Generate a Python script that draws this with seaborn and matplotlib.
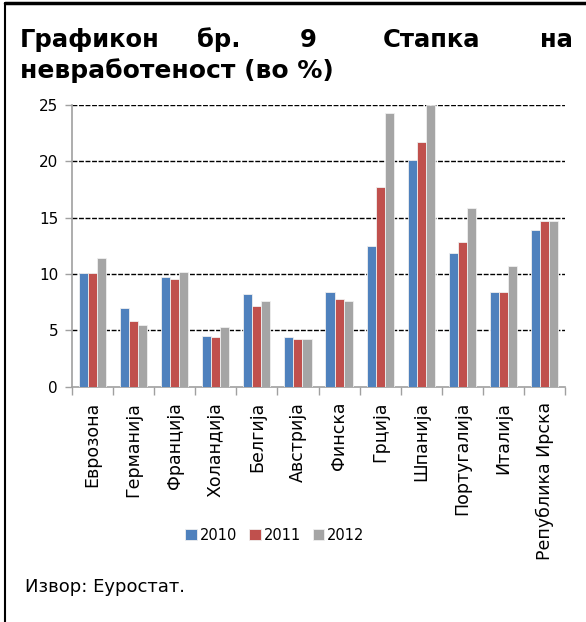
import matplotlib
matplotlib.use("Agg")
import matplotlib.pyplot as plt
import seaborn as sns
import pandas as pd

countries = ["Еврозона", "Германија", "Франција", "Холандија", "Белгија", "Австрија",
             "Финска", "Грција", "Шпанија", "Португалија", "Италија", "Република Ирска"]
years = ["2010", "2011", "2012"]
v2010 = [10.1, 7.0, 9.7, 4.5, 8.2, 4.4, 8.4, 12.5, 20.1, 11.9, 8.4, 13.9]
v2011 = [10.1, 5.8, 9.6, 4.4, 7.2, 4.2, 7.8, 17.7, 21.7, 12.8, 8.4, 14.7]
v2012 = [11.4, 5.5, 10.2, 5.3, 7.6, 4.2, 7.6, 24.3, 25.0, 15.9, 10.7, 14.7]
yticks = [0, 5, 10, 15, 20, 25]
colors = ["#4F81BD", "#C0504D", "#A5A5A5"]

df = pd.DataFrame({
    "country": countries * 3,
    "year": [y for y in years for _ in countries],
    "value": v2010 + v2011 + v2012,
})

sns.set_style("white")
plt.rcParams["font.family"] = ["DejaVu Sans"]
plt.rcParams["text.color"] = "black"
plt.rcParams["xtick.labelcolor"] = "black"
plt.rcParams["ytick.labelcolor"] = "black"

fig = plt.figure(figsize=(5.86, 6.22), dpi=100)
ax = fig.add_axes([72 / 586, 1 - 386.7 / 622, (565 - 72) / 586, (386.7 - 105) / 622])

sns.barplot(data=df, x="country", y="value", hue="year", palette=colors,
            width=0.66, gap=0, edgecolor="#F0F0F0", linewidth=0.6,
            saturation=1, errorbar=None, ax=ax, legend=True, zorder=3)

ax.set_xlim(-0.5, len(countries) - 0.5)
ax.set_ylim(0, 25)
ax.set_yticks(yticks)
ax.set_yticklabels([str(t) for t in yticks], fontsize=11)
for t in yticks[1:]:
    ax.axhline(t, color="black", linestyle=(0, (3.5, 1.2)), linewidth=1.0, zorder=1)

ax.set_xticks(range(len(countries)))
ax.set_xticklabels(countries, rotation=90, fontsize=12.5, va="top")
ax.tick_params(axis="x", which="major", bottom=False, length=0, pad=11)
# category separators on the x axis
ax.set_xticks([i - 0.5 for i in range(len(countries) + 1)], minor=True)
ax.tick_params(axis="x", which="minor", bottom=True, length=6, color="#A0A0A0",
               width=1, direction="out")
ax.tick_params(axis="y", left=True, length=5, color="#A0A0A0", width=1, direction="out", pad=5)
ax.set_xlabel("")
ax.set_ylabel("")

for side in ["top", "right"]:
    ax.spines[side].set_visible(False)
for side in ["left", "bottom"]:
    ax.spines[side].set_color("#A0A0A0")
    ax.spines[side].set_linewidth(1.2)

handles, labels = ax.get_legend_handles_labels()
ax.legend(handles, labels, loc="center", bbox_to_anchor=(275 / 586, 1 - 535 / 622),
          bbox_transform=fig.transFigure, ncol=3, frameon=False, fontsize=10.5,
          handlelength=0.8, handleheight=0.8, handletextpad=0.2, columnspacing=0.8,
          borderpad=0)

# title, justified across the width
title_words = [("Графикон", 20), ("бр.", 197), ("9", 300), ("Стапка", 383), ("на", 540)]
for word, x in title_words:
    fig.text(x / 586, 1 - 47 / 622, word, fontsize=17.5, fontweight="bold",
             ha="left", va="baseline")
fig.text(20 / 586, 1 - 78 / 622, "невработеност (во %)", fontsize=18, fontweight="bold",
         ha="left", va="baseline")

fig.text(25 / 586, 1 - 587 / 622, "Извор: Еуростат.", fontsize=13, ha="left", va="center")

# frame lines on the top and left edge
fig.add_artist(plt.Line2D([5 / 586, 1], [1 - 3 / 622, 1 - 3 / 622], color="black", linewidth=2.5,
                          transform=fig.transFigure))
fig.add_artist(plt.Line2D([5 / 586, 5 / 586], [0, 1 - 3 / 622], color="black", linewidth=1.5,
                          transform=fig.transFigure))

fig.savefig("out.png", dpi=100)
